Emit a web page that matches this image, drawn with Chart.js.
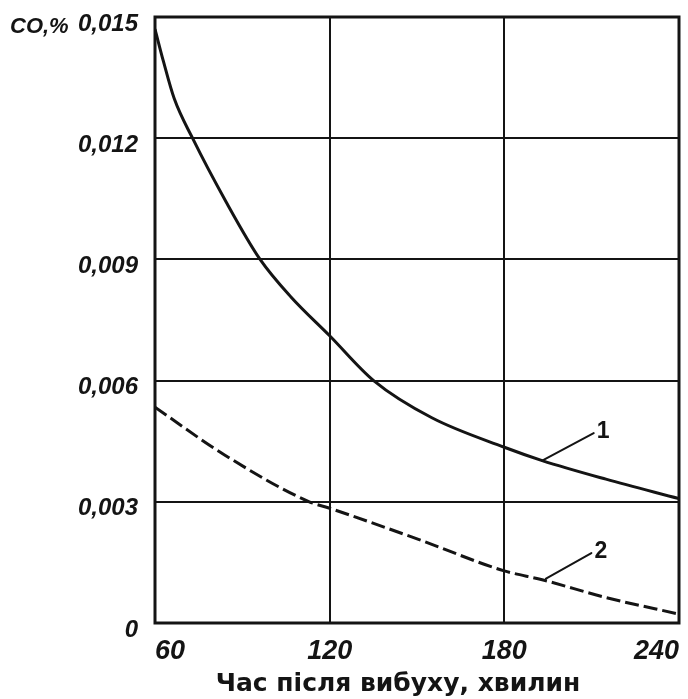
<!DOCTYPE html>
<html lang="uk">
<head>
<meta charset="utf-8">
<title>CO після вибуху</title>
<script src="https://cdn.jsdelivr.net/npm/chart.js@4/dist/chart.umd.min.js"></script>
<style>
  html, body { margin: 0; padding: 0; background: #ffffff; }
  #wrap { width: 688px; height: 699px; }
</style>
</head>
<body>
<div id="wrap"><canvas id="chart" width="688" height="699"></canvas></div>
<script>
// Time after the blast, minutes, and CO concentration, %
const minutes1 = [60, 62.9, 66.6, 72.9, 84.3, 96.1, 106.7, 120, 135.1, 155.1, 180, 193, 214.9, 240];
const co1 = [0.01470, 0.01390, 0.01298, 0.01200, 0.01044, 0.00900, 0.00807, 0.00711, 0.00600, 0.00508, 0.00435, 0.00402, 0.00356, 0.00308];

const minutes2 = [60, 83.9, 113, 120, 150.5, 180, 193, 214.9, 240];
const co2 = [0.00534, 0.00416, 0.00300, 0.00284, 0.00207, 0.00129, 0.00107, 0.00063, 0.00022];

const seriesNames = ['1', '2'];

// Axis ticks
const xTicks = [60, 120, 180, 240];
const yTicks = [0, 0.003, 0.006, 0.009, 0.012, 0.015];

// Callout leaders: point on the curve -> end of leader (data coordinates)
const calloutStart = [[193, 0.00402], [194.3, 0.00110]];
const calloutEnd = [[210.7, 0.00470], [209.9, 0.00173]];

const yUnit = 'CO,%';
const xTitle = 'Час після вибуху, хвилин';

const INK = '#141414';
const TICK_FONT = '"Liberation Sans", Arial, sans-serif';

function fmtY(v) {
  if (Math.abs(v) < 1e-9) return '0';
  return v.toFixed(3).replace('.', ',');
}

const toXY = (xs, ys) => xs.map((x, i) => ({ x: x, y: ys[i] }));

// keep tick labels from pushing the plot area inwards
function noOverhang(scale) {
  scale.paddingTop = 0;
  scale.paddingBottom = 0;
  scale.paddingLeft = 0;
  scale.paddingRight = 0;
}

const decorations = {
  id: 'decorations',
  afterDraw(chart) {
    const { ctx, chartArea: a, scales } = chart;
    const xs = scales.x, ys = scales.y;
    ctx.save();

    // plot frame
    ctx.strokeStyle = INK;
    ctx.lineWidth = 3;
    ctx.strokeRect(a.left, a.top, a.right - a.left, a.bottom - a.top);

    // numbered callouts
    ctx.lineWidth = 2;
    ctx.lineCap = 'round';
    ctx.fillStyle = INK;
    ctx.font = 'bold 23px "Liberation Sans", Arial, sans-serif';
    ctx.textAlign = 'left';
    ctx.textBaseline = 'middle';
    seriesNames.forEach((name, i) => {
      const x0 = xs.getPixelForValue(calloutStart[i][0]);
      const y0 = ys.getPixelForValue(calloutStart[i][1]);
      const x1 = xs.getPixelForValue(calloutEnd[i][0]);
      const y1 = ys.getPixelForValue(calloutEnd[i][1]);
      ctx.beginPath();
      ctx.moveTo(x0, y0);
      ctx.lineTo(x1, y1);
      ctx.stroke();
      ctx.fillText(name, x1 + 3, y1 - 1);
    });

    // unit label beside the top tick
    ctx.font = 'italic bold 22px ' + TICK_FONT;
    ctx.textAlign = 'left';
    ctx.textBaseline = 'middle';
    ctx.fillText(yUnit, 10, ys.getPixelForValue(0.015) + 10);

    // x-axis title
    ctx.font = 'bold 25px "DejaVu Sans", "Noto Sans", sans-serif';
    ctx.textAlign = 'center';
    ctx.textBaseline = 'middle';
    ctx.fillText(xTitle, 398, 684);

    ctx.restore();
  }
};

new Chart(document.getElementById('chart'), {
  type: 'line',
  data: {
    datasets: [
      {
        label: seriesNames[0],
        data: toXY(minutes1, co1),
        borderColor: INK,
        borderWidth: 3,
        pointRadius: 0,
        cubicInterpolationMode: 'monotone',
        fill: false
      },
      {
        label: seriesNames[1],
        data: toXY(minutes2, co2),
        borderColor: INK,
        borderWidth: 3,
        borderDash: [14, 5],
        pointRadius: 0,
        cubicInterpolationMode: 'monotone',
        fill: false
      }
    ]
  },
  options: {
    responsive: false,
    devicePixelRatio: 1,
    animation: false,
    layout: { padding: { left: 0, right: 9, top: 17, bottom: 0 } },
    plugins: {
      legend: { display: false },
      tooltip: { enabled: false },
      title: { display: false }
    },
    scales: {
      x: {
        type: 'linear',
        min: 60,
        max: 240,
        afterBuildTicks(scale) { scale.ticks = xTicks.map(v => ({ value: v })); },
        afterFit(scale) { scale.height = 76; noOverhang(scale); },
        border: { display: false },
        grid: { color: INK, lineWidth: 2, drawTicks: false },
        ticks: {
          color: INK,
          padding: 12,
          align: 'inner',
          maxRotation: 0,
          font: { family: TICK_FONT, size: 27, style: 'italic', weight: 'bold' }
        }
      },
      y: {
        type: 'linear',
        min: 0,
        max: 0.015,
        afterBuildTicks(scale) { scale.ticks = yTicks.map(v => ({ value: v })); },
        afterFit(scale) { scale.width = 155; noOverhang(scale); },
        border: { display: false },
        grid: { color: INK, lineWidth: 2, drawTicks: false },
        ticks: {
          color: INK,
          padding: 17,
          labelOffset: 7,
          callback: (v) => fmtY(v),
          font: { family: TICK_FONT, size: 24, style: 'italic', weight: 'bold' }
        }
      }
    }
  },
  plugins: [decorations]
});
</script>
</body>
</html>
